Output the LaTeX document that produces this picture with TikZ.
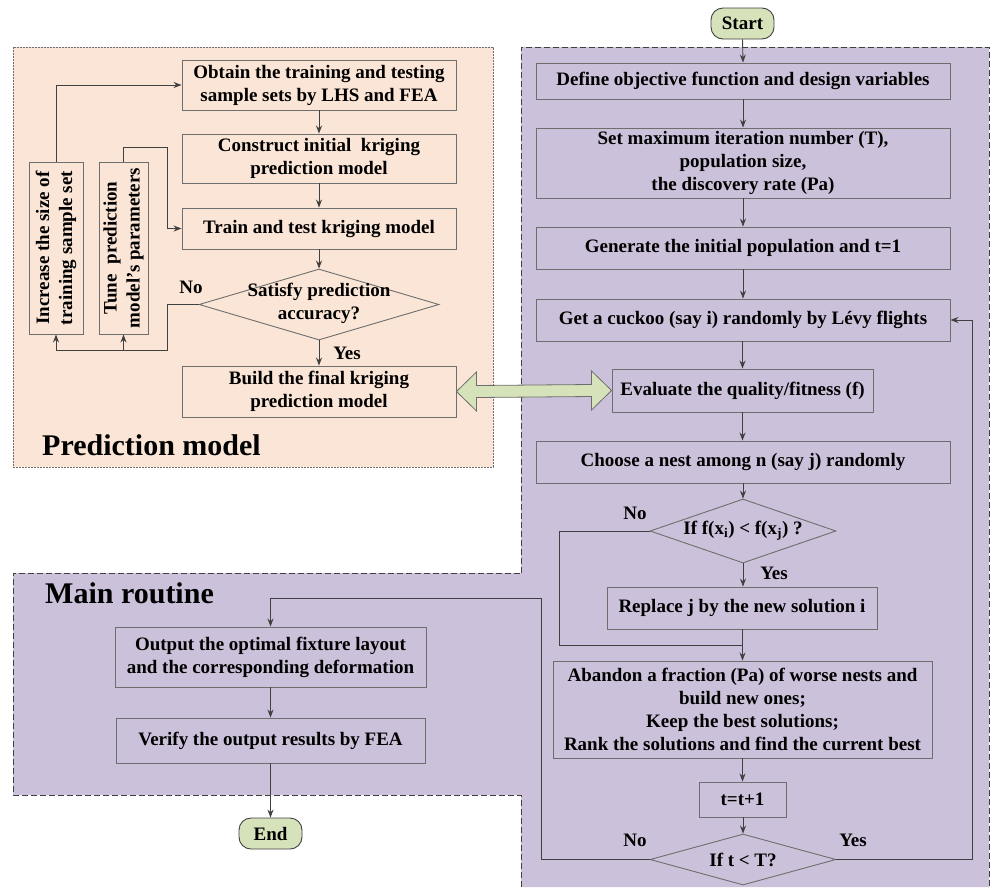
\documentclass[tikz,border=0pt]{standalone}
\usepackage{fontspec}
\setmainfont{Liberation Serif}
\usetikzlibrary{shapes.geometric,arrows.meta,calc}
\definecolor{peach}{HTML}{FBE5D6}
\definecolor{lilac}{HTML}{CCC1DA}
\definecolor{sage}{HTML}{D6E2BA}
\definecolor{boxline}{HTML}{6E6E6E}
\definecolor{arrline}{HTML}{404040}
\tikzset{
  boxnode/.style={draw=boxline, line width=0.9pt, inner sep=0pt, align=center,
    font=\fontsize{19}{23}\selectfont\bfseries},
  txt/.style={inner sep=0pt, align=center, font=\fontsize{19}{23}\selectfont\bfseries},
  decision/.style={diamond, draw=boxline, line width=0.9pt, inner sep=0pt},
  terminal/.style={draw=arrline, fill=sage, line width=0.9pt, rounded corners=12pt,
    inner sep=0pt, font=\fontsize{19}{21}\selectfont\bfseries},
  arr/.style={draw=arrline, line width=0.9pt, -{Stealth[length=8pt,width=6pt]}},
  ln/.style={draw=arrline, line width=0.9pt},
  biglabel/.style={inner sep=0pt, anchor=base west, font=\fontsize{30}{32}\selectfont\bfseries}
}
\begin{document}
\begin{tikzpicture}[x=1pt,y=-1pt]
\useasboundingbox (0,0) rectangle (990,887);
% regions
\fill[lilac] (521,47) -- (989,47) -- (989,887) -- (521,887) -- (521,795) -- (13,795) -- (13,573) -- (521,573) -- cycle;
\draw[arrline, line width=0.9pt, dash pattern=on 6pt off 3pt] (521,573) -- (521,47) -- (989,47) -- (989,887);
\draw[arrline, line width=0.9pt, dash pattern=on 6pt off 3pt] (521,887) -- (521,795) -- (13,795) -- (13,573) -- (521,573);
\draw[fill=peach, draw=boxline, line width=0.6pt, dash pattern=on 2pt off 1pt] (13,47) rectangle (493,467);
\node[biglabel] (predlabel) at (42,455) {Prediction model};
\node[biglabel] (mainlabel) at (45,603) {Main routine};

% prediction model
\node[boxnode, fill=peach, minimum width=274, minimum height=50] (obtain) at (319,85) {Obtain the training and testing\\sample sets by LHS and FEA};
\node[boxnode, fill=peach, minimum width=274, minimum height=49] (construct) at (319,158.5) {Construct initial\ \ kriging\\prediction model};
\node[boxnode, fill=peach, minimum width=274, minimum height=41] (train) at (319,228.5) {Train and test kriging model};
\node[decision, fill=peach, minimum width=240, minimum height=71] (satisfy) at (319,304.5) {};
\node[txt] (satisfytxt) at (319,303) {Satisfy prediction\\accuracy?};
\node[boxnode, fill=peach, minimum width=274, minimum height=51] (build) at (319,391.5) {Build the final kriging\\prediction model};
\node[boxnode, fill=peach, minimum width=54, minimum height=172] (inc) at (56,248) {};
\node[txt, rotate=90] (inctxt) at (56,248) {Increase the size of\\training sample set};
\node[boxnode, fill=peach, minimum width=49, minimum height=172] (tune) at (123.5,248) {};
\node[txt, rotate=90] (tunetxt) at (123.5,248) {Tune\ \ prediction\\model's parameters};
\node[txt] (no1) at (191,287) {No};
\node[txt] (yes1) at (347,353) {Yes};

\draw[arr] (obtain) -- (construct);
\draw[arr] (construct) -- (train);
\draw[arr] (train) -- (satisfy.north);
\draw[arr] (satisfy.south) -- (build);
\coordinate (nl) at (167,350);
\draw[arr] (satisfy.west) -| (nl) -| (inc.south);
\draw[arr] (tune.south |- nl) -- (tune.south);
\draw[arr] (inc.north) |- (obtain.west);
\draw[arr] (tune.north) |- (167,147) |- (train.west);

% main routine
\node[terminal, minimum width=63, minimum height=31] (start) at (742.5,23.5) {Start};
\node[boxnode, fill=lilac, minimum width=414, minimum height=36] (define) at (743,81) {Define objective function and design variables};
\node[boxnode, fill=lilac, minimum width=414, minimum height=70] (set) at (743,163) {Set maximum iteration number (T),\\population size,\\the discovery rate (Pa)};
\node[boxnode, fill=lilac, minimum width=414, minimum height=42] (gen) at (743,248) {Generate the initial population and t=1};
\node[boxnode, fill=lilac, minimum width=414, minimum height=42] (get) at (743,320) {Get a cuckoo (say i) randomly by Lévy flights};
\node[boxnode, fill=lilac, minimum width=261, minimum height=43] (eval) at (742.5,390.5) {Evaluate the quality/fitness (f)};
\node[boxnode, fill=lilac, minimum width=414, minimum height=42] (choose) at (743,462) {Choose a nest among n (say j) randomly};
\node[decision, fill=lilac, minimum width=186, minimum height=64] (cmp) at (743,531) {};
\node[txt] (cmptxt) at (743,531) {If f(x\textsubscript{i}) < f(x\textsubscript{j}) ?};
\node[boxnode, fill=lilac, minimum width=270, minimum height=42] (replace) at (742,608) {Replace j by the new solution i};
\node[boxnode, fill=lilac, minimum width=379, minimum height=97] (abandon) at (742.5,709.5) {Abandon a fraction (Pa) of worse nests and\\build new ones;\\Keep the best solutions;\\Rank the solutions and find the current best};
\node[boxnode, fill=lilac, minimum width=87, minimum height=35] (inc2) at (742.5,799.5) {t=t+1};
\node[decision, fill=lilac, minimum width=186, minimum height=51] (cond) at (743,859.5) {};
\node[txt] (condtxt) at (743,860) {If t < T?};
\node[boxnode, fill=lilac, minimum width=311, minimum height=60] (output) at (270.5,657) {Output the optimal fixture layout\\and the corresponding deformation};
\node[boxnode, fill=lilac, minimum width=309, minimum height=45] (verify) at (270.5,740.5) {Verify the output results by FEA};
\node[terminal, minimum width=63, minimum height=31] (end) at (270.5,833.5) {End};
\node[txt] (no2) at (635,513) {No};
\node[txt] (yes2) at (774,573) {Yes};
\node[txt] (no3) at (635,840) {No};
\node[txt] (yes3) at (853,840) {Yes};

\draw[arr] (start.south) -- (define.north);
\draw[arr] (define) -- (set);
\draw[arr] (set) -- (gen);
\draw[arr] (gen) -- (get);
\draw[arr] (get.south -| eval.north) -- (eval.north);
\draw[arr] (eval.south) -- (eval.south |- choose.north);
\draw[arr] (choose.south -| cmp.north) -- (cmp.north);
\draw[arr] (cmp.south) -- (cmp.south |- replace.north);
\draw[arr] (replace.south -| abandon.north) -- (abandon.north);
\draw[ln] (cmp.west) -| (559,645) -- (replace.south |- 0,645);
\draw[arr] (abandon.south -| inc2.north) -- (inc2.north);
\draw[arr] (inc2.south -| cond.north) -- (cond.north);
\draw[arr] (cond.east) -| (972,320) -- (get.east);
\draw[arr] (cond.west) -| (541,598) -| (output.north);
\draw[arr] (output) -- (verify);
\draw[arr] (verify) -- (end);

% double arrow
\path (build.east) coordinate (la) (eval.west) coordinate (ra);
\draw[draw=boxline, fill=sage, line width=0.8pt]
  (la) -- ($(la)+(20,-19.5)$) -- ($(la)+(20,-6)$) -- ($(ra)+(-20,-6)$) -- ($(ra)+(-20,-19.5)$) -- (ra)
  -- ($(ra)+(-20,19.5)$) -- ($(ra)+(-20,6)$) -- ($(la)+(20,6)$) -- ($(la)+(20,19.5)$) -- cycle;
\end{tikzpicture}
\end{document}
